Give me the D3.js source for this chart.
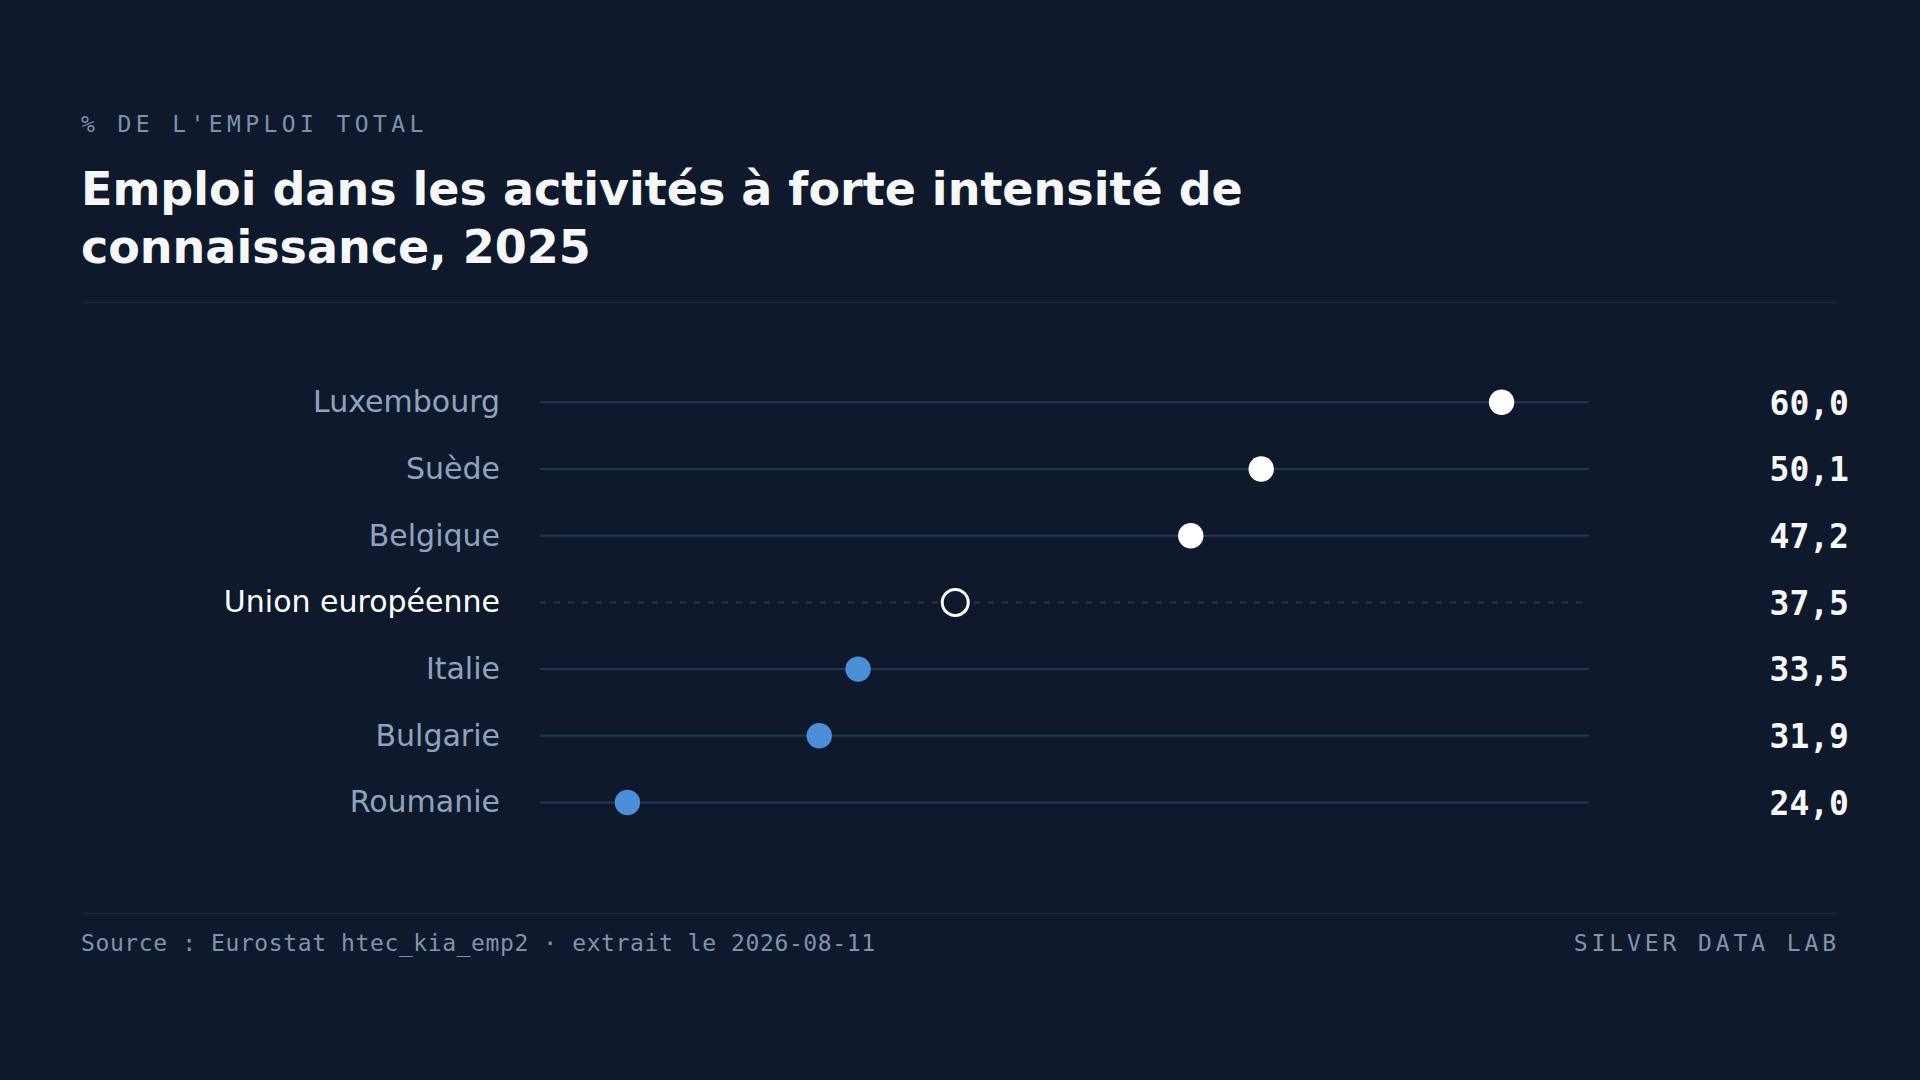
<!DOCTYPE html>
<html>
<head>
<meta charset="utf-8">
<script src="https://cdn.jsdelivr.net/npm/d3@7"></script>
<style>
  html, body { margin: 0; padding: 0; background: #0e1a2b; }
  svg { display: block; }
</style>
</head>
<body>
<div id="chart"></div>
<script>
const countries = ["Luxembourg", "Suède", "Belgique", "Union européenne", "Italie", "Bulgarie", "Roumanie"];
const values = [60.0, 50.1, 47.2, 37.5, 33.5, 31.9, 24.0];
const reference = "Union européenne";

const kicker = "% DE L'EMPLOI TOTAL";
const titleLines = ["Emploi dans les activités à forte intensité de", "connaissance, 2025"];
const source = "Source : Eurostat htec_kia_emp2 · extrait le 2026-08-11";
const brand = "SILVER DATA LAB";

const width = 1920, height = 1080;
const margin = {left: 81, right: 81};

const rows = countries.map((c, i) => ({country: c, value: values[i]}));
const refValue = rows.find(d => d.country === reference).value;

const mono = "'DejaVu Sans Mono', monospace";
const sans = "'DejaVu Sans', sans-serif";

var svg = d3.select("#chart").append("svg")
    .attr("width", width)
    .attr("height", height);

svg.append("rect")
    .attr("width", width)
    .attr("height", height)
    .attr("fill", "#0e1a2b");

// header
svg.append("text")
    .attr("x", margin.left)
    .attr("y", 132)
    .attr("font-family", mono)
    .attr("font-size", 23)
    .attr("letter-spacing", 4.4)
    .attr("fill", "#7d91ab")
    .text(kicker);

svg.append("text")
    .attr("font-family", sans)
    .attr("font-size", 46)
    .attr("font-weight", "bold")
    .attr("fill", "#f5f7fa")
    .selectAll("tspan")
    .data(titleLines)
    .join("tspan")
    .attr("x", margin.left)
    .attr("y", (d, i) => 205 + i * 57.5)
    .text(d => d);

svg.append("line")
    .attr("x1", margin.left).attr("x2", width - margin.right)
    .attr("y1", 302.5).attr("y2", 302.5)
    .attr("stroke", "#18273a")
    .attr("stroke-width", 1.5);

// scales
const [lo, hi] = d3.extent(values);
const pad = (hi - lo) * 0.1;

var x = d3.scaleLinear()
    .domain([lo - pad, hi + pad])
    .range([540, 1589]);

var y = d3.scalePoint()
    .domain(countries)
    .range([402.3, 802.5]);

var g = svg.append("g");

g.selectAll("line.track")
    .data(rows)
    .join("line")
    .attr("class", "track")
    .attr("x1", x.range()[0])
    .attr("x2", x.range()[1])
    .attr("y1", d => y(d.country))
    .attr("y2", d => y(d.country))
    .attr("stroke", "#233750")
    .attr("stroke-width", 2)
    .attr("stroke-dasharray", d => d.country === reference ? "6 8" : null);

g.selectAll("text.label")
    .data(rows)
    .join("text")
    .attr("class", "label")
    .attr("x", 500)
    .attr("y", d => y(d.country))
    .attr("dy", "0.33em")
    .attr("text-anchor", "end")
    .attr("font-family", sans)
    .attr("font-size", 30)
    .attr("fill", d => d.country === reference ? "#ffffff" : "#8fa3bf")
    .text(d => d.country);

g.selectAll("circle.dot")
    .data(rows)
    .join("circle")
    .attr("class", "dot")
    .attr("cx", d => x(d.value))
    .attr("cy", d => y(d.country))
    .attr("r", d => d.country === reference ? 13 : 12.7)
    .attr("fill", d => d.country === reference ? "#0e1a2b" : (d.value > refValue ? "#ffffff" : "#4a8fd8"))
    .attr("stroke", d => d.country === reference ? "#ffffff" : "none")
    .attr("stroke-width", 3);

const fmt = d3.format(".1f");

g.selectAll("text.value")
    .data(rows)
    .join("text")
    .attr("class", "value")
    .attr("x", 1849)
    .attr("y", d => y(d.country))
    .attr("dy", "0.37em")
    .attr("text-anchor", "end")
    .attr("font-family", mono)
    .attr("font-size", 33)
    .attr("font-weight", "bold")
    .attr("fill", "#f5f7fa")
    .text(d => fmt(d.value).replace(".", ","));

// footer
svg.append("line")
    .attr("x1", margin.left).attr("x2", width - margin.right)
    .attr("y1", 913.5).attr("y2", 913.5)
    .attr("stroke", "#18273a")
    .attr("stroke-width", 1.5);

svg.append("text")
    .attr("x", margin.left)
    .attr("y", 951)
    .attr("font-family", mono)
    .attr("font-size", 23)
    .attr("letter-spacing", 0.6)
    .attr("fill", "#8193ab")
    .text(source);

svg.append("text")
    .attr("x", width - margin.right + 1)
    .attr("y", 951)
    .attr("text-anchor", "end")
    .attr("font-family", mono)
    .attr("font-size", 23)
    .attr("letter-spacing", 3.9)
    .attr("fill", "#8193ab")
    .text(brand);
</script>
</body>
</html>
